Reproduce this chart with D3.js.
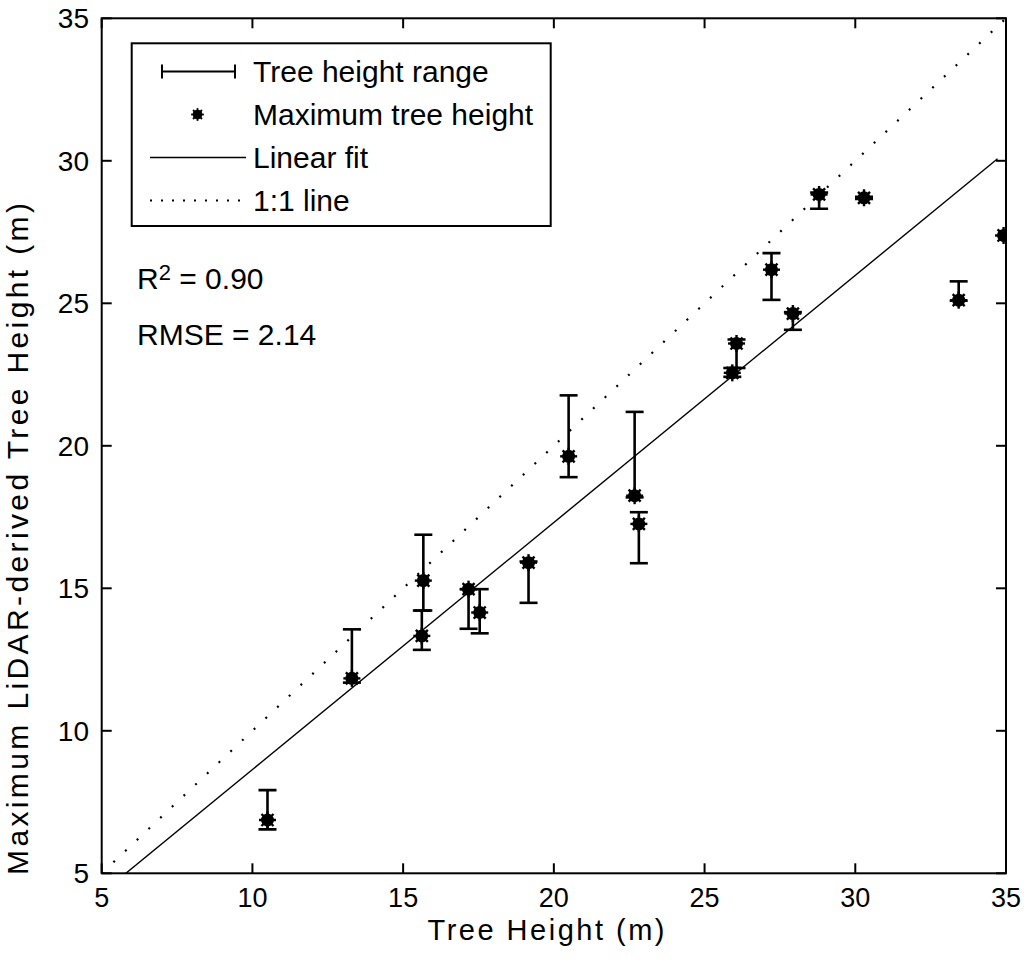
<!DOCTYPE html>
<html>
<head>
    <meta charset="UTF-8">
    <title>Tree height vs LiDAR height</title>
    <script src="https://d3js.org/d3.v7.min.js"></script>
    <style>
        *{
            padding:0;
            margin:0;
        }
        body{
            background:#fff;
        }
        text{
            font-family: "Liberation Sans", Arial, sans-serif;
            fill:#000;
        }
    </style>
</head>
<body>
<svg id="main" width="1024" height="965"></svg>
<script>
// field height (x), max lidar height (y), and lidar range (lo/hi)
const treeHeight = [10.50, 13.30, 15.67, 15.62, 17.17, 17.54, 19.16, 20.49, 22.68,
                    22.82, 25.92, 26.06, 27.22, 27.93, 28.80, 30.29, 33.43, 34.92];
const lidarMax   = [6.87, 11.84, 15.27, 13.33, 14.97, 14.15, 15.90, 19.63, 18.25,
                    17.26, 22.56, 23.59, 26.18, 24.64, 28.82, 28.70, 25.11, 27.38];
const rangeLow   = [6.54, 11.69, 14.22, 12.84, 13.58, 13.42, 14.49, 18.90, 18.19,
                    15.88, 22.42, 22.73, 25.12, 24.07, 28.32, 28.66, 25.09, 27.38];
const rangeHigh  = [7.92, 13.56, 16.88, 14.22, 14.97, 14.97, 15.94, 21.77, 21.19,
                    17.67, 22.73, 23.73, 26.76, 24.69, 28.89, 28.74, 25.77, 27.38];

const xTicks = [5, 10, 15, 20, 25, 30, 35];
const yTicks = [5, 10, 15, 20, 25, 30, 35];

// linear fit y = slope*x + intercept
const fitSlope = 0.867;
const fitIntercept = -0.03;
const fitRange = [5, 34.72];
const oneToOne = [5, 35];

const legendItems = ["Tree height range", "Maximum tree height", "Linear fit", "1:1 line"];
const r2Text = "0.90";
const rmseText = "2.14";

const svg = d3.select("#main");
const pLeft = 101.7, pRight = 1006, pTop = 18.3, pBottom = 873.3;

const x = d3.scaleLinear().domain([5, 35]).range([pLeft, pRight]);
const y = d3.scaleLinear().domain([5, 35]).range([pBottom, pTop]);

svg.append("clipPath").attr("id", "plotclip")
    .append("rect")
    .attr("x", pLeft).attr("y", pTop)
    .attr("width", pRight - pLeft).attr("height", pBottom - pTop);

const plot = svg.append("g").attr("clip-path", "url(#plotclip)");

// 1:1 dotted line
plot.append("line")
    .attr("x1", x(oneToOne[0])).attr("y1", y(oneToOne[0]))
    .attr("x2", x(oneToOne[1])).attr("y2", y(oneToOne[1]))
    .attr("stroke", "#000").attr("stroke-width", 2.2)
    .attr("stroke-dasharray", "2 14.1");

// linear fit
plot.append("line")
    .attr("x1", x(fitRange[0])).attr("y1", y(fitSlope * fitRange[0] + fitIntercept))
    .attr("x2", x(fitRange[1])).attr("y2", y(fitSlope * fitRange[1] + fitIntercept))
    .attr("stroke", "#000").attr("stroke-width", 1.4);

// error bars
const pts = treeHeight.map((d, i) => ({x: d, y: lidarMax[i], lo: rangeLow[i], hi: rangeHigh[i]}));
const capW = 9;
const eb = plot.append("g").attr("stroke", "#000").attr("stroke-width", 2.6);
pts.filter(d => d.hi - d.lo > 0.05).forEach(d => {
    eb.append("line").attr("x1", x(d.x)).attr("x2", x(d.x)).attr("y1", y(d.lo)).attr("y2", y(d.hi));
    eb.append("line").attr("x1", x(d.x) - capW).attr("x2", x(d.x) + capW).attr("y1", y(d.lo)).attr("y2", y(d.lo));
    eb.append("line").attr("x1", x(d.x) - capW).attr("x2", x(d.x) + capW).attr("y1", y(d.hi)).attr("y2", y(d.hi));
});

// markers
function marker(g, cx, cy, s) {
    g.append("circle").attr("cx", cx).attr("cy", cy).attr("r", 6.5 * s).attr("fill", "#000");
    [0, 45, 90, 135].forEach(a => {
        const r = 8.5 * s, t = a * Math.PI / 180;
        g.append("line")
            .attr("x1", cx - r * Math.cos(t)).attr("y1", cy - r * Math.sin(t))
            .attr("x2", cx + r * Math.cos(t)).attr("y2", cy + r * Math.sin(t))
            .attr("stroke", "#000").attr("stroke-width", 2.4 * s);
    });
}
const mk = plot.append("g");
pts.forEach(d => marker(mk, x(d.x), y(d.y), 1));

// axes box with inward ticks on all sides
const axes = svg.append("g");
const tickLen = 10;
xTicks.forEach(t => {
    axes.append("line").attr("x1", x(t)).attr("x2", x(t)).attr("y1", pBottom).attr("y2", pBottom - tickLen)
        .attr("stroke", "#000").attr("stroke-width", 2);
    axes.append("line").attr("x1", x(t)).attr("x2", x(t)).attr("y1", pTop).attr("y2", pTop + tickLen)
        .attr("stroke", "#000").attr("stroke-width", 2);
    axes.append("text").attr("x", x(t)).attr("y", 907).attr("text-anchor", "middle")
        .attr("font-size", 27).text(t);
});
yTicks.forEach(t => {
    axes.append("line").attr("x1", pLeft).attr("x2", pLeft + tickLen).attr("y1", y(t)).attr("y2", y(t))
        .attr("stroke", "#000").attr("stroke-width", 2);
    axes.append("line").attr("x1", pRight).attr("x2", pRight - tickLen).attr("y1", y(t)).attr("y2", y(t))
        .attr("stroke", "#000").attr("stroke-width", 2);
    axes.append("text").attr("x", 89).attr("y", y(t) + 10).attr("text-anchor", "end")
        .attr("font-size", 28).text(t);
});
axes.append("rect")
    .attr("x", pLeft).attr("y", pTop).attr("width", pRight - pLeft).attr("height", pBottom - pTop)
    .attr("fill", "none").attr("stroke", "#000").attr("stroke-width", 2);

// axis labels
svg.append("text")
    .attr("x", 546).attr("y", 940).attr("text-anchor", "middle")
    .attr("font-size", 29).attr("textLength", 237).attr("lengthAdjust", "spacing")
    .text("Tree Height (m)");
svg.append("text")
    .attr("transform", "translate(28,539) rotate(-90)")
    .attr("text-anchor", "middle")
    .attr("font-size", 30).attr("textLength", 672).attr("lengthAdjust", "spacing")
    .text("Maximum LiDAR-derived Tree Height (m)");

// legend
const lg = svg.append("g");
lg.append("rect").attr("x", 131.7).attr("y", 43.3).attr("width", 419).attr("height", 182.7)
    .attr("fill", "#fff").attr("stroke", "#000").attr("stroke-width", 2);
const rowY = d3.scaleLinear().domain([0, 3]).range([71.5, 200.5]);
legendItems.forEach((t, i) => {
    lg.append("text").attr("x", 253).attr("y", rowY(i) + 10.5).attr("font-size", 30).text(t);
});
lg.append("line").attr("x1", 162).attr("x2", 235).attr("y1", rowY(0)).attr("y2", rowY(0))
    .attr("stroke", "#000").attr("stroke-width", 2);
[162, 235].forEach(cx => lg.append("line").attr("x1", cx).attr("x2", cx)
    .attr("y1", rowY(0) - 7).attr("y2", rowY(0) + 7).attr("stroke", "#000").attr("stroke-width", 2));
marker(lg, 197.5, rowY(1), 0.75);
lg.append("line").attr("x1", 150).attr("x2", 246).attr("y1", rowY(2)).attr("y2", rowY(2))
    .attr("stroke", "#000").attr("stroke-width", 1.6);
lg.append("line").attr("x1", 150).attr("x2", 246).attr("y1", rowY(3)).attr("y2", rowY(3))
    .attr("stroke", "#000").attr("stroke-width", 2).attr("stroke-dasharray", "2 9");

// stats
const r2 = svg.append("text").attr("x", 137).attr("y", 289).attr("font-size", 30);
r2.append("tspan").text("R");
r2.append("tspan").attr("dy", -9).attr("font-size", 22).text("2");
r2.append("tspan").attr("dy", 9).text(" = " + r2Text);
svg.append("text").attr("x", 137).attr("y", 345).attr("font-size", 30).text("RMSE = " + rmseText);
</script>
</body>
</html>
